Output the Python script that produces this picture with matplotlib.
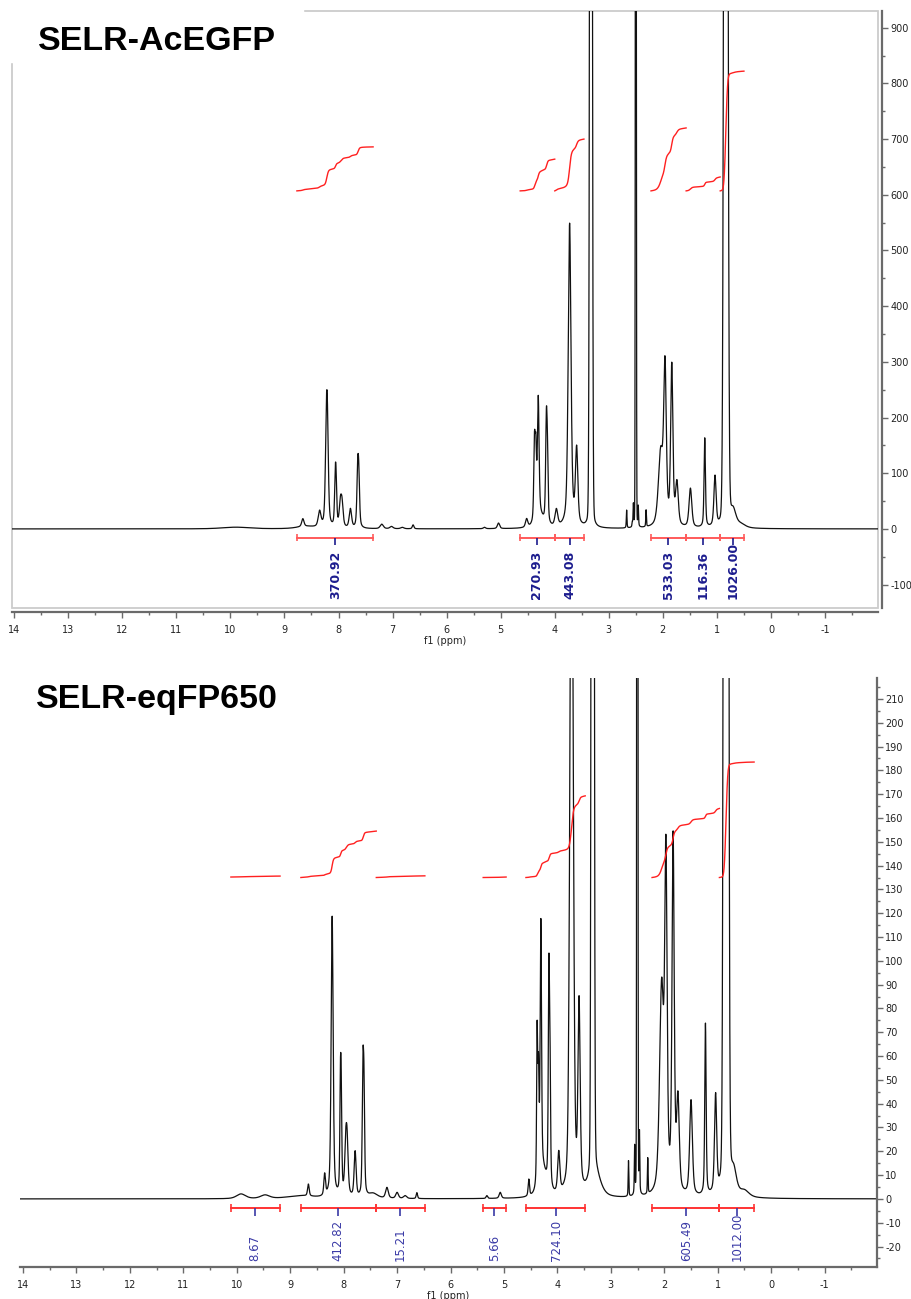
import numpy as np
import matplotlib
matplotlib.use('Agg')
import matplotlib.pyplot as plt
from matplotlib.patches import Rectangle
from matplotlib.ticker import MultipleLocator

plt.rcParams['axes.unicode_minus'] = False
plt.rcParams['font.family'] = ['DejaVu Sans']

# ---------------- data: SELR-AcEGFP (top) ----------------
# peak list: position (ppm), height, half width (ppm),
# lorentzian fraction
ac_ppm = [9.9, 8.6, 8.66, 8.35, 8.225, 8.205, 8.06, 8.045, 7.965, 7.935, 7.78,
          7.645, 7.625, 7.2, 7.02, 6.82, 6.62, 5.3, 5.04, 4.52, 4.375, 4.35,
          4.305, 4.155, 4.135, 4.28, 3.97, 3.725, 3.595, 3.33, 2.67, 2.565,
          2.545, 2.50, 2.455, 2.31, 2.04, 1.96, 1.835, 1.74, 1.49, 1.225,
          1.035, 0.835, 0.70, 0.56]
ac_h = [3, 4, 14, 28, 150, 142, 74, 62, 40, 38, 34,
        92, 78, 8, 4, 2.5, 7, 2.5, 10, 15, 135, 115,
        210, 175, 100, 20, 30, 545, 135, 4000, 32, 8,
        40, 3000, 36, 30, 130, 275, 285, 75, 70, 160,
        90, 4500, 28, 6]
ac_w = [0.3, 0.2, 0.025, 0.03, 0.022, 0.022, 0.016, 0.016, 0.025, 0.025, 0.026,
        0.018, 0.018, 0.035, 0.035, 0.035, 0.018, 0.025, 0.025, 0.025, 0.015, 0.015,
        0.018, 0.016, 0.015, 0.08, 0.03, 0.03, 0.026, 0.02, 0.007, 0.007,
        0.007, 0.008, 0.007, 0.007, 0.05, 0.028, 0.024, 0.03, 0.03, 0.015,
        0.024, 0.03, 0.06, 0.1]
ac_eta = [0.5, 0.5, 0.5, 0.5, 0.5, 0.5, 0.5, 0.5, 0.5, 0.5, 0.5,
          0.5, 0.5, 0.5, 0.5, 0.5, 0.5, 0.5, 0.5, 0.5, 0.5, 0.5,
          0.5, 0.5, 0.5, 0.5, 0.5, 0.5, 0.5, 0.05, 0.5, 0.5,
          0.5, 0.05, 0.5, 0.5, 0.5, 0.5, 0.5, 0.5, 0.5, 0.5,
          0.5, 0.05, 0.5, 0.5]

ac_int_hi = [8.77, 4.64, 4.00, 2.22, 1.57, 0.94]
ac_int_lo = [7.36, 4.00, 3.46, 1.57, 0.94, 0.50]
ac_int_start = [607, 607, 607, 607, 607, 607]
ac_int_end = [686, 664, 700, 720, 632, 822]
ac_lab_pos = [8.06, 4.33, 3.72, 1.90, 1.26, 0.70]
ac_labels = ['370.92', '270.93', '443.08', '533.03', '116.36', '1026.00']

# ---------------- data: SELR-eqFP650 (bottom) ----------------
eq_ppm = [9.92, 9.47, 8.8, 8.66, 8.355, 8.215, 8.06, 8.045, 7.96, 7.935, 7.785,
          7.64, 7.62, 7.45, 7.19, 7.0, 6.85, 6.63, 5.32, 5.07, 4.535, 4.38,
          4.355, 4.31, 4.16, 4.14, 4.27, 3.975, 3.735, 3.595, 3.34, 3.3,
          2.67, 2.555, 2.505, 2.465, 2.31, 2.05, 1.97, 1.835, 1.745, 1.50,
          1.23, 1.04, 0.845, 0.70, 0.5]
eq_h = [2, 1.5, 1.2, 5, 9, 118, 42, 34, 19, 19, 19,
        48, 40, 2, 4.5, 2.5, 1.2, 2.5, 1.2, 2.5, 7, 62,
        45, 106, 85, 50, 10, 17, 330, 78, 1500, 10,
        15, 20, 1500, 25, 15, 85, 135, 148, 38, 40,
        72, 41, 2500, 9, 2.5]
eq_w = [0.1, 0.1, 0.3, 0.018, 0.018, 0.022, 0.013, 0.013, 0.024, 0.024, 0.022,
        0.015, 0.015, 0.1, 0.03, 0.03, 0.035, 0.015, 0.018, 0.024, 0.015, 0.011,
        0.013, 0.015, 0.013, 0.013, 0.08, 0.024, 0.035, 0.024, 0.02, 0.12,
        0.007, 0.007, 0.008, 0.007, 0.007, 0.045, 0.026, 0.024, 0.03, 0.03,
        0.015, 0.024, 0.03, 0.06, 0.1]
eq_eta = [0.5, 0.5, 0.5, 0.5, 0.5, 0.5, 0.5, 0.5, 0.5, 0.5, 0.5,
          0.5, 0.5, 0.5, 0.5, 0.5, 0.5, 0.5, 0.5, 0.5, 0.5, 0.5,
          0.5, 0.5, 0.5, 0.5, 0.5, 0.5, 0.3, 0.5, 0.05, 0.5,
          0.5, 0.5, 0.05, 0.5, 0.5, 0.5, 0.5, 0.5, 0.5, 0.5,
          0.5, 0.5, 0.05, 0.5, 0.5]

eq_int_hi = [10.11, 8.80, 7.39, 5.39, 4.59, 2.23, 0.97]
eq_int_lo = [9.19, 7.39, 6.48, 4.96, 3.48, 0.97, 0.32]
eq_int_start = [135.2, 135, 135, 135, 135, 135, 135]
eq_int_end = [135.6, 154.5, 135.7, 135.2, 169.3, 164, 183.5]
eq_lab_pos = [9.66, 8.10, 6.94, 5.18, 4.02, 1.59, 0.64]
eq_labels = ['8.67', '412.82', '15.21', '5.66', '724.10', '605.49', '1012.00']

x = np.linspace(14.1, -2.05, 16151)


def spectrum(ppm, h, w, eta):
    y = np.zeros_like(x)
    for c, a, s, e in zip(ppm, h, w, eta):
        r = (x - c) / s
        y += a * (e / (1 + r**2) + (1 - e) * np.exp(-np.log(2) * r**2))
    return y


def integral(y, hi, lo, v0, v1):
    m = (x <= hi) & (x >= lo)
    c = np.cumsum(y[m])
    c = (c - c[0]) / (c[-1] - c[0])
    return x[m], v0 + (v1 - v0) * c


def draw_panel(ax, y, int_hi, int_lo, int_start, int_end, lab_pos, labels,
               br_y, cap, tick_len, lab_y, lab_color, lab_weight, lab_size,
               br_color):
    ax.plot(x, y, color='#111111', lw=0.9)
    for hi, lo, v0, v1 in zip(int_hi, int_lo, int_start, int_end):
        ix, iy = integral(y, hi, lo, v0, v1)
        ax.plot(ix, iy, color='#ff2020', lw=1.0)
        ax.plot([hi, lo], [br_y, br_y], color=br_color, lw=1.4)
        ax.vlines([hi, lo], br_y - cap, br_y + cap, color=br_color, lw=1.2)
    for p, t in zip(lab_pos, labels):
        ax.vlines(p, br_y - tick_len, br_y, color=lab_color, lw=1.2)
        ax.text(p, lab_y, t, rotation=90, ha='center', va='bottom',
                color=lab_color, fontsize=lab_size, fontweight=lab_weight)


def style_axes(ax, ymaj, ymin):
    ax.xaxis.set_major_locator(MultipleLocator(1))
    ax.xaxis.set_minor_locator(MultipleLocator(0.5))
    ax.yaxis.set_major_locator(MultipleLocator(ymaj))
    ax.yaxis.set_minor_locator(MultipleLocator(ymin))
    ax.yaxis.tick_right()
    ax.spines['top'].set_visible(False)
    ax.spines['left'].set_visible(False)
    for s in ('bottom', 'right'):
        ax.spines[s].set_color('#6a6a6a')
        ax.spines[s].set_linewidth(1.6)
    ax.tick_params(which='both', colors='#6a6a6a', labelcolor='#222222',
                   labelsize=7, direction='out')
    ax.tick_params(which='major', length=4, width=1)
    ax.tick_params(which='minor', length=2.5, width=1)
    ax.tick_params(axis='y', pad=2)
    ax.tick_params(axis='x', pad=5)
    ax.set_xlabel('f1 (ppm)', fontsize=7, color='#222222', labelpad=1)


fig = plt.figure(figsize=(9.11, 12.99), dpi=100)

# top panel
ax1 = fig.add_axes([12 / 911, 1 - 608 / 1299, 866 / 911, 597 / 1299])
y1 = spectrum(ac_ppm, ac_h, ac_w, ac_eta)
draw_panel(ax1, y1, ac_int_hi, ac_int_lo, ac_int_start, ac_int_end,
           ac_lab_pos, ac_labels, br_y=-16, cap=6, tick_len=12, lab_y=-126,
           lab_color='#1c1c8e', lab_weight='bold', lab_size=9,
           br_color='#ff5a5a')
ax1.set_xlim(14.04, -1.98)
ax1.set_ylim(-142, 930)
style_axes(ax1, 100, 50)
ax1.spines['bottom'].set_position(('outward', 3))
ax1.spines['right'].set_position(('outward', 3))
ax1.add_patch(Rectangle((0, 0), 1, 1, transform=ax1.transAxes, fill=False,
                        ec='#cccccc', lw=1.3, clip_on=False))

# bottom panel
ax2 = fig.add_axes([20 / 911, 1 - 1267 / 1299, 857 / 911, 589 / 1299])
y2 = spectrum(eq_ppm, eq_h, eq_w, eq_eta)
draw_panel(ax2, y2, eq_int_hi, eq_int_lo, eq_int_start, eq_int_end,
           eq_lab_pos, eq_labels, br_y=-3.8, cap=1.6, tick_len=3.3, lab_y=-26,
           lab_color='#3a3aa6', lab_weight='normal', lab_size=8.5,
           br_color='#ff3333')
ax2.set_xlim(14.056, -1.98)
ax2.set_ylim(-28.6, 218.8)
style_axes(ax2, 10, 5)

# titles
fig.add_artist(Rectangle((0, 1 - 62 / 1299), 303 / 911, 62 / 1299,
                         transform=fig.transFigure, color='white', zorder=3))
fig.text(38 / 911, 1 - 50 / 1299, 'SELR-AcEGFP', fontsize=24.5,
         fontweight='bold', family='Liberation Sans', zorder=4)
fig.text(36 / 911, 1 - 708 / 1299, 'SELR-eqFP650', fontsize=24.5,
         fontweight='bold', family='Liberation Sans', zorder=4)

plt.savefig('out.png', dpi=100)
